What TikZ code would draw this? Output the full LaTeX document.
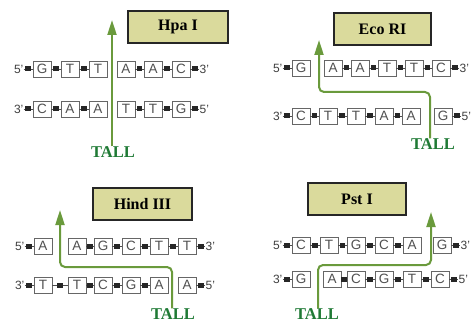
\documentclass[tikz,border=0pt]{standalone}
\usepackage{fontspec}
\setmainfont{Liberation Serif}
\setsansfont{Liberation Sans}
\usetikzlibrary{arrows.meta,calc}
\definecolor{enzfill}{HTML}{DADA9C}
\definecolor{arrgreen}{HTML}{6A9A3C}
\definecolor{tallgreen}{HTML}{1F7A35}
\definecolor{lettergray}{HTML}{505050}
\tikzset{
 base/.style={draw=black!60, line width=0.8pt, fill=white, minimum width=18pt, minimum height=16pt, inner sep=0pt, font=\sffamily\fontsize{13.5}{13.5}\selectfont, text=lettergray},
 endlab/.style={inner sep=0pt, font=\sffamily\fontsize{12}{12}\selectfont, text=black!75},
 conn/.style={draw=black!70, line width=0.6pt},
 blk/.style={fill=black!85, minimum width=5.5pt, minimum height=5pt, inner sep=0pt, draw=none},
 enz/.style={draw=black!85, line width=1.2pt, fill=enzfill, minimum height=32pt, inner sep=0pt, font=\bfseries\fontsize{16}{16}\selectfont},
 tall/.style={text=tallgreen, font=\bfseries\fontsize{16.5}{16.5}\selectfont, inner sep=0pt},
 cut/.style={draw=arrgreen, line width=2pt, rounded corners=5pt, -{Triangle[length=15pt,width=9pt]}},
}
\newcommand\dnarow[6]{%
 \foreach \xx/\ll [count=\i] in {#5}{\node[base] (#1\i) at (\xx,#2) {\ll};}
 \node[endlab,anchor=east] (#1L) at ($(#11.west)+(-9,0)$) {#3};
 \node[endlab,anchor=west] (#1R) at ($(#16.east)+(9,0)$) {#4};
 \draw[conn] (#1L.east) -- node[blk]{} (#11.west);
 \draw[conn] (#16.east) -- node[blk]{} (#1R.west);
 \foreach \i in {1,...,5}{%
   \pgfmathtruncatemacro\j{\i+1}%
   \ifnum\i=#6\relax\else\draw[conn] (#1\i.east) -- node[blk]{} (#1\j.west);\fi
 }%
}
\begin{document}
\begin{tikzpicture}[x=1pt,y=-1pt]
\useasboundingbox (0,0) rectangle (473,323);
\fill[white] (0,0) rectangle (473,323);
% panel 1
\node[enz, minimum width=100pt] (e1) at (178,27) {Hpa I};
\dnarow{pat}{69}{5'}{3'}{42/G,70/T,98/T,126/A,153/A,181/C}{3}
\dnarow{pab}{109}{3'}{5'}{42/C,70/A,98/A,126/T,153/T,181/G}{3}
\node[tall] (t1) at (113,152) {TALL};
\coordinate (c1) at (112,20);
\draw[cut] (t1.north -| c1) -- (c1);
% panel 2
\node[enz, minimum width=97pt] (e2) at (382.5,29) {Eco RI};
\dnarow{pbt}{68}{5'}{3'}{301/G,333/A,360/A,387/T,414/T,441/C}{1}
\dnarow{pbb}{116}{3'}{5'}{301/C,328/T,356/T,384/A,411/A,443/G}{5}
\node[tall] (t2) at (433,144) {TALL};
\coordinate (b2) at (430,92);
\coordinate (c2) at (319,40);
\draw[cut] (t2.north -| b2) -- (b2) -- (b2 -| c2) -- (c2);
% panel 3
\node[enz, minimum width=99pt] (e3) at (142.5,204) {Hind III};
\dnarow{pct}{246}{5'}{3'}{43/A,77/A,103/G,131/C,159/T,187/T}{1}
\dnarow{pcb}{285}{3'}{5'}{43/T,77/T,103/C,131/G,159/A,187/A}{5}
\node[tall] (t3) at (173,314) {TALL};
\coordinate (b3) at (172,267);
\coordinate (c3) at (60,210);
\draw[cut] (t3.north -| b3) -- (b3) -- (b3 -| c3) -- (c3);
% panel 4
\node[enz, minimum width=98pt] (e4) at (357,199) {Pst I};
\dnarow{pdt}{245}{5'}{3'}{301/C,329/T,356/G,384/C,412/A,442/G}{5}
\dnarow{pdb}{279}{3'}{5'}{301/G,332/A,356/C,384/G,412/T,440/C}{1}
\node[tall] (t4) at (317,314) {TALL};
\coordinate (b4) at (318,265);
\coordinate (c4) at (431,212);
\draw[cut] (t4.north -| b4) -- (b4) -- (b4 -| c4) -- (c4);
\end{tikzpicture}
\end{document}
